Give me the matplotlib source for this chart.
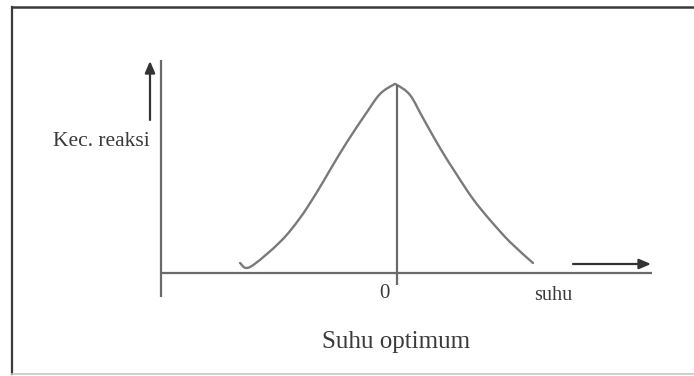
import matplotlib
matplotlib.use("Agg")
import numpy as np
import matplotlib.pyplot as plt
from matplotlib.lines import Line2D
from matplotlib.path import Path
from matplotlib.patches import PathPatch

# Reaction rate vs temperature (arbitrary units)
suhu = [7.9, 8.9, 11.9, 13.9, 15.6, 16.9, 18.6, 20.6, 21.9, 23.2, 23.6,
        24.9, 26.2, 27.9, 29.6, 31.2, 32.9, 34.9, 37.2]
kec_reaksi = [1.0, 0.6, 3.1, 5.5, 8.1, 10.3, 13.1, 16.1, 17.9, 18.8, 18.8,
              17.8, 15.5, 12.5, 9.8, 7.4, 5.3, 3.1, 1.0]
suhu_optimum = 23.6

label_y = "Kec. reaksi"
label_x = "suhu"
label_zero = "0"
title = "Suhu optimum"

W, H = 694, 376
fig = plt.figure(figsize=(W / 100, H / 100), dpi=100)
ax = fig.add_axes([0, 0, 1, 1])
ax.set_xlim(-16.1, 53.3)
ax.set_ylim(-10.3, 27.3)
ax.axis("off")

serif = ["Liberation Serif", "DejaVu Serif"]
axis_col = "#6a6a6a"
curve_col = "#7a7a7a"
text_col = "#3a3a3a"

# frame around the figure
fig.add_artist(Line2D([12 / W, 12 / W], [1 - 7 / H, 1 - 374 / H], color="#3a3a3a", lw=1.6))
fig.add_artist(Line2D([12 / W, 1.0], [1 - 7 / H, 1 - 7 / H], color="#3a3a3a", lw=1.8))
fig.add_artist(Line2D([12 / W, 1.0], [1 - 374 / H, 1 - 374 / H], color="#c8c8c8", lw=1.2))

# axes lines
ax.plot([0, 0], [-2.4, 21.3], color=axis_col, lw=1.6, solid_capstyle="butt")
ax.plot([0, 49.1], [0, 0], color=axis_col, lw=1.6, solid_capstyle="butt")

# optimum marker
ax.plot([suhu_optimum, suhu_optimum], [-1.2, max(kec_reaksi)], color=axis_col, lw=1.6,
        solid_capstyle="butt")

# smooth curve through the points (Catmull-Rom as cubic Bezier segments)
pts = np.column_stack([suhu, kec_reaksi])
verts = [pts[0]]
codes = [Path.MOVETO]
for i in range(len(pts) - 1):
    p0 = pts[i - 1] if i > 0 else pts[i]
    p1, p2 = pts[i], pts[i + 1]
    p3 = pts[i + 2] if i + 2 < len(pts) else pts[i + 1]
    verts += [p1 + (p2 - p0) / 6, p2 - (p3 - p1) / 6, p2]
    codes += [Path.CURVE4] * 3
ax.add_patch(PathPatch(Path(verts, codes), facecolor="none", edgecolor=curve_col,
                       lw=1.7, capstyle="round", joinstyle="round"))

# direction arrows
ax.annotate("", xy=(-1.1, 21.2), xytext=(-1.1, 15.3),
            arrowprops=dict(arrowstyle="-|>,head_length=0.7,head_width=0.3",
                            color="#333333", lw=1.6, shrinkA=0, shrinkB=0))
ax.annotate("", xy=(49.0, 0.9), xytext=(41.2, 0.9),
            arrowprops=dict(arrowstyle="-|>,head_length=0.7,head_width=0.3",
                            color="#333333", lw=1.6, shrinkA=0, shrinkB=0))

# labels
ax.text(-1.1, 13.2, label_y, family=serif, fontsize=15.5, color=text_col,
        ha="right", va="center")
ax.text(22.35, -2.0, label_zero, family=serif, fontsize=15, color=text_col,
        ha="center", va="center")
ax.text(39.2, -2.2, label_x, family=serif, fontsize=14.5, color=text_col,
        ha="center", va="center")
ax.text(23.5, -6.9, title, family=serif, fontsize=18, color=text_col,
        ha="center", va="center")

fig.savefig("out.png", dpi=100)
